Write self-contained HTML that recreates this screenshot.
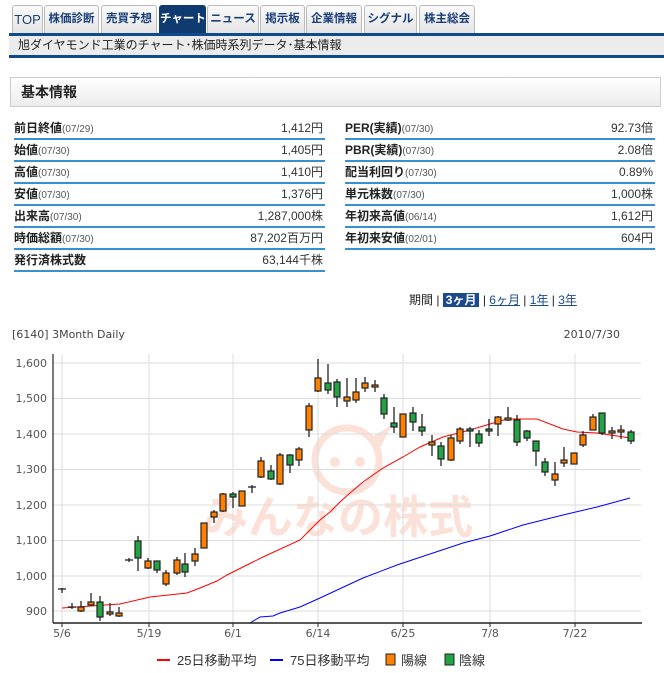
<!DOCTYPE html>
<html><head><meta charset="utf-8">
<style>
*{margin:0;padding:0;box-sizing:border-box}
body{width:664px;height:673px;background:#fff;position:relative;font-family:"Liberation Sans","Noto Sans CJK JP",sans-serif;overflow:hidden;color:#333}
.tab{position:absolute;top:5px;height:29px;border:1px solid #bbb;border-bottom:none;background:linear-gradient(#fafafa,#e4e4e4);font-size:11.5px;font-weight:bold;color:#1a3f78;text-align:center;line-height:27px;border-radius:3px 3px 0 0;white-space:nowrap;overflow:hidden}
.tab.on{background:#0e3a70;color:#fff;border-color:#0e3a70}
.abs{position:absolute}
.row{position:absolute;height:22px;border-bottom:2px solid #3a8fd0;font-size:12px;line-height:20px}
.row b{font-weight:bold;color:#222}
.row small{font-size:10px;color:#555}
.row span{position:absolute;right:2px;top:0;color:#333}
</style></head><body>
<div class="tab" style="left:12px;width:31px;font-weight:normal;font-size:13px">TOP</div>
<div class="tab" style="left:44px;width:55px">株価診断</div>
<div class="tab" style="left:101px;width:56px">売買予想</div>
<div class="tab on" style="left:159px;width:47px">チャート</div>
<div class="tab" style="left:207px;width:52px">ニュース</div>
<div class="tab" style="left:260px;width:45px">掲示板</div>
<div class="tab" style="left:306px;width:56px">企業情報</div>
<div class="tab" style="left:364px;width:53px">シグナル</div>
<div class="tab" style="left:419px;width:56px">株主総会</div>
<div class="abs" style="left:9px;top:33px;width:655px;height:3px;background:#0e4a8c"></div>
<div class="abs" style="left:9px;top:36px;width:655px;height:19px;background:#ececec;font-size:12px;line-height:19px;padding-left:9px;color:#222">旭ダイヤモンド工業のチャート･株価時系列データ･基本情報</div>
<div class="abs" style="left:9px;top:55px;width:655px;height:3px;background:#0e4a8c"></div>
<div class="abs" style="left:10px;top:77px;width:651px;height:30px;border:1px solid #ccc;background:linear-gradient(#fff,#ececec);font-size:14px;font-weight:bold;line-height:28px;padding-left:10px;color:#222">基本情報</div>

<div class="row" style="left:14px;top:118px;width:311px"><b>前日終値</b><small>(07/29)</small><span>1,412円</span></div>
<div class="row" style="left:14px;top:140px;width:311px"><b>始値</b><small>(07/30)</small><span>1,405円</span></div>
<div class="row" style="left:14px;top:162px;width:311px"><b>高値</b><small>(07/30)</small><span>1,410円</span></div>
<div class="row" style="left:14px;top:184px;width:311px"><b>安値</b><small>(07/30)</small><span>1,376円</span></div>
<div class="row" style="left:14px;top:206px;width:311px"><b>出来高</b><small>(07/30)</small><span>1,287,000株</span></div>
<div class="row" style="left:14px;top:228px;width:311px"><b>時価総額</b><small>(07/30)</small><span>87,202百万円</span></div>
<div class="row" style="left:14px;top:250px;width:311px"><b>発行済株式数</b><span>63,144千株</span></div>
<div class="row" style="left:345px;top:118px;width:310px"><b>PER(実績)</b><small>(07/30)</small><span>92.73倍</span></div>
<div class="row" style="left:345px;top:140px;width:310px"><b>PBR(実績)</b><small>(07/30)</small><span>2.08倍</span></div>
<div class="row" style="left:345px;top:162px;width:310px"><b>配当利回り</b><small>(07/30)</small><span>0.89%</span></div>
<div class="row" style="left:345px;top:184px;width:310px"><b>単元株数</b><small>(07/30)</small><span>1,000株</span></div>
<div class="row" style="left:345px;top:206px;width:310px"><b>年初来高値</b><small>(06/14)</small><span>1,612円</span></div>
<div class="row" style="left:345px;top:228px;width:310px"><b>年初来安値</b><small>(02/01)</small><span>604円</span></div>

<div class="abs" style="left:409px;top:292px;font-size:12px;line-height:16px;color:#222;white-space:nowrap">期間 | <span style="background:#1b4a8e;color:#fff;font-weight:bold;padding:0 3px">3ヶ月</span> | <u style="color:#1b4a8e">6ヶ月</u> | <u style="color:#1b4a8e">1年</u> | <u style="color:#1b4a8e">3年</u></div>

<svg class="abs" style="left:0;top:320px" width="664" height="353" viewBox="0 320 664 353" font-family="DejaVu Sans, Liberation Sans, sans-serif">
<text x="12" y="338" font-size="11" fill="#444">[6140] 3Month Daily</text>
<text x="620" y="338" font-size="11" fill="#444" text-anchor="end">2010/7/30</text>
<g opacity="0.85">
<circle cx="347" cy="460" r="32" fill="none" stroke="#fbdcd2" stroke-width="7"/>
<path d="M370 438 L392 425 L378 452 Z" fill="#fbdcd2"/>
<circle cx="335" cy="462" r="5" fill="#fbdcd2"/>
<circle cx="360" cy="462" r="5" fill="#fbdcd2"/>
<text x="338" y="533" font-size="45" font-weight="bold" fill="#fbdcd2" text-anchor="middle" font-family="Noto Sans CJK JP, sans-serif">みんなの株式</text>
</g>
<g stroke="#ddd" stroke-width="1">
<line x1="53" x2="641" y1="363" y2="363"/><line x1="53" x2="641" y1="398.5" y2="398.5"/><line x1="53" x2="641" y1="434" y2="434"/><line x1="53" x2="641" y1="469.5" y2="469.5"/><line x1="53" x2="641" y1="505" y2="505"/><line x1="53" x2="641" y1="540.5" y2="540.5"/><line x1="53" x2="641" y1="576" y2="576"/><line x1="53" x2="641" y1="611" y2="611"/>
<line x1="62" x2="62" y1="354" y2="623"/><line x1="149" x2="149" y1="354" y2="623"/><line x1="233" x2="233" y1="354" y2="623"/><line x1="318" x2="318" y1="354" y2="623"/><line x1="403" x2="403" y1="354" y2="623"/><line x1="490" x2="490" y1="354" y2="623"/><line x1="575" x2="575" y1="354" y2="623"/>
</g>
<g font-size="11" fill="#555" text-anchor="end">
<text x="47" y="367">1,600</text><text x="47" y="402">1,500</text><text x="47" y="438">1,400</text><text x="47" y="473">1,300</text><text x="47" y="509">1,200</text><text x="47" y="544">1,100</text><text x="47" y="580">1,000</text><text x="47" y="615">900</text>
</g>
<g font-size="11" fill="#555" text-anchor="middle">
<text x="62" y="637">5/6</text><text x="149" y="637">5/19</text><text x="233" y="637">6/1</text><text x="318" y="637">6/14</text><text x="403" y="637">6/25</text><text x="490" y="637">7/8</text><text x="575" y="637">7/22</text>
</g>
<polyline fill="none" stroke="#ff0000" stroke-width="1" points="62,608 120,604 150,597 187,593 200,588 217,581 227,575 253,562 263,557 300,540 320,520 330,512 340,502 350,493 363,482 383,468 403,457 420,447 443,437 470,430 490,424 507,419 537,419 563,429 577,432 597,433 617,436 630,438"/>
<polyline fill="none" stroke="#0000ff" stroke-width="1" points="250,623 260,617 273,616 280,613 300,607 320,598 335,591 363,578 397,565 430,554 463,543 490,536 523,525 563,515 597,507 630,498"/>
<g stroke="#222" stroke-width="1.3">
<line x1="62" x2="62" y1="588" y2="593"/><line x1="58" x2="66" y1="589" y2="589"/>
<line x1="72" x2="72" y1="603" y2="609"/><line x1="68" x2="76" y1="607" y2="607"/>
<line x1="129" x2="129" y1="558" y2="562"/><line x1="125" x2="133" y1="560" y2="560"/>
<line x1="252" x2="252" y1="485" y2="493"/><line x1="248" x2="256" y1="487" y2="487"/>
<line x1="81" x2="81" y1="601" y2="612"/><line x1="91" x2="91" y1="593" y2="606"/><line x1="100" x2="100" y1="596" y2="621"/><line x1="110" x2="110" y1="603" y2="616"/><line x1="119" x2="119" y1="607" y2="617"/><line x1="138" x2="138" y1="536" y2="571"/><line x1="148" x2="148" y1="558" y2="569"/><line x1="157" x2="157" y1="561" y2="573"/><line x1="166" x2="166" y1="570" y2="586"/><line x1="177" x2="177" y1="557" y2="575"/><line x1="185" x2="185" y1="553" y2="577"/><line x1="195" x2="195" y1="548" y2="566"/><line x1="214" x2="214" y1="510" y2="523"/><line x1="223" x2="223" y1="493" y2="512"/><line x1="233" x2="233" y1="492" y2="508"/><line x1="261" x2="261" y1="457" y2="478"/><line x1="271" x2="271" y1="465" y2="480"/><line x1="280" x2="280" y1="453" y2="485"/><line x1="290" x2="290" y1="454" y2="473"/><line x1="299" x2="299" y1="447" y2="466"/><line x1="309" x2="309" y1="403" y2="437"/><line x1="318" x2="318" y1="359" y2="392"/><line x1="328" x2="328" y1="364" y2="394"/><line x1="337" x2="337" y1="379" y2="407"/><line x1="347" x2="347" y1="378" y2="407"/><line x1="356" x2="356" y1="378" y2="403"/><line x1="365" x2="365" y1="377" y2="392"/><line x1="375" x2="375" y1="380" y2="392"/><line x1="384" x2="384" y1="394" y2="419"/><line x1="394" x2="394" y1="407" y2="433"/><line x1="413" x2="413" y1="407" y2="431"/><line x1="422" x2="422" y1="414" y2="436"/><line x1="432" x2="432" y1="435" y2="456"/><line x1="441" x2="441" y1="442" y2="466"/><line x1="451" x2="451" y1="435" y2="461"/><line x1="460" x2="460" y1="427" y2="444"/><line x1="470" x2="470" y1="427" y2="447"/><line x1="479" x2="479" y1="430" y2="447"/><line x1="489" x2="489" y1="419" y2="436"/><line x1="498" x2="498" y1="416" y2="436"/><line x1="508" x2="508" y1="407" y2="421"/><line x1="517" x2="517" y1="415" y2="446"/><line x1="527" x2="527" y1="430" y2="441"/><line x1="536" x2="536" y1="441" y2="466"/><line x1="545" x2="545" y1="458" y2="476"/><line x1="555" x2="555" y1="462" y2="486"/><line x1="564" x2="564" y1="447" y2="467"/><line x1="583" x2="583" y1="431" y2="447"/><line x1="593" x2="593" y1="414" y2="430"/><line x1="602" x2="602" y1="413" y2="435"/><line x1="612" x2="612" y1="427" y2="439"/><line x1="621" x2="621" y1="425" y2="439"/><line x1="631" x2="631" y1="430" y2="444"/>
</g>
<g stroke="#222" stroke-width="1.2" fill="#ff8000">
<rect x="78" y="607" width="6" height="4"/><rect x="88" y="602" width="6" height="3"/><rect x="107" y="612" width="6" height="2"/><rect x="116" y="613" width="6" height="3"/><rect x="145" y="561" width="6" height="7"/><rect x="163" y="573" width="6" height="11"/><rect x="174" y="560" width="6" height="13"/><rect x="192" y="554" width="6" height="7"/><rect x="201" y="523" width="6" height="25"/><rect x="211" y="512" width="6" height="5"/><rect x="220" y="494" width="6" height="17"/><rect x="239" y="491" width="6" height="15"/><rect x="258" y="461" width="6" height="16"/><rect x="277" y="455" width="6" height="29"/><rect x="296" y="449" width="6" height="11"/><rect x="306" y="406" width="6" height="24"/><rect x="315" y="378" width="6" height="13"/><rect x="344" y="397" width="6" height="4"/><rect x="353" y="392" width="6" height="8"/><rect x="362" y="383" width="6" height="5"/><rect x="372" y="385" width="6" height="2"/><rect x="400" y="414" width="6" height="23"/><rect x="429" y="442" width="6" height="3"/><rect x="448" y="438" width="6" height="22"/><rect x="457" y="429" width="6" height="12"/><rect x="495" y="417" width="6" height="7"/><rect x="505" y="418" width="6" height="2"/><rect x="552" y="474" width="6" height="6"/><rect x="561" y="460" width="6" height="3"/><rect x="571" y="453" width="6" height="11"/><rect x="580" y="435" width="6" height="10"/><rect x="590" y="417" width="6" height="13"/><rect x="609" y="431" width="6" height="2"/><rect x="618" y="430" width="6" height="2"/>
</g>
<g stroke="#222" stroke-width="1.2" fill="#22a344">
<rect x="97" y="602" width="6" height="15"/><rect x="135" y="541" width="6" height="17"/><rect x="154" y="561" width="6" height="9"/><rect x="182" y="564" width="6" height="8"/><rect x="230" y="494" width="6" height="3"/><rect x="268" y="471" width="6" height="8"/><rect x="287" y="455" width="6" height="10"/><rect x="325" y="383" width="6" height="7"/><rect x="334" y="382" width="6" height="15"/><rect x="381" y="398" width="6" height="16"/><rect x="391" y="423" width="6" height="4"/><rect x="410" y="413" width="6" height="9"/><rect x="419" y="427" width="6" height="4"/><rect x="438" y="446" width="6" height="13"/><rect x="467" y="429" width="6" height="2"/><rect x="476" y="434" width="6" height="9"/><rect x="486" y="429" width="6" height="2"/><rect x="514" y="420" width="6" height="22"/><rect x="524" y="431" width="6" height="7"/><rect x="533" y="441" width="6" height="10"/><rect x="542" y="462" width="6" height="10"/><rect x="599" y="413" width="6" height="20"/><rect x="628" y="432" width="6" height="9"/>
</g>
<line x1="53" x2="53" y1="354" y2="623" stroke="#222" stroke-width="1.2"/>
<line x1="53" x2="642" y1="623" y2="623" stroke="#222" stroke-width="1.5"/>
<g stroke="#222"><line x1="62" x2="62" y1="623" y2="627"/><line x1="149" x2="149" y1="623" y2="627"/><line x1="233" x2="233" y1="623" y2="627"/><line x1="318" x2="318" y1="623" y2="627"/><line x1="403" x2="403" y1="623" y2="627"/><line x1="490" x2="490" y1="623" y2="627"/><line x1="575" x2="575" y1="623" y2="627"/></g>
<g font-size="13" fill="#333" font-family="Liberation Sans, Noto Sans CJK JP, sans-serif">
<line x1="157" x2="170" y1="660" y2="660" stroke="#ff0000" stroke-width="2"/><text x="177" y="665">25日移動平均</text>
<line x1="270" x2="283" y1="660" y2="660" stroke="#0000ff" stroke-width="2"/><text x="290" y="665">75日移動平均</text>
<rect x="386" y="654" width="9" height="11" fill="#ff8000" stroke="#222"/><text x="401" y="665">陽線</text>
<rect x="445" y="654" width="9" height="11" fill="#22a344" stroke="#222"/><text x="459" y="665">陰線</text>
</g>
</svg>
</body></html>
